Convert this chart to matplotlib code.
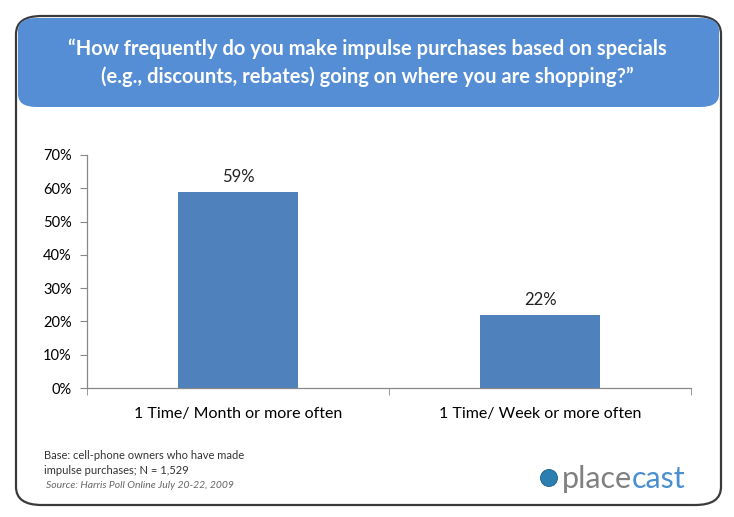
import numpy as np
import matplotlib.pyplot as plt
from matplotlib.patches import FancyBboxPatch, Circle

# datos del grafico
categories = ['1 Time/ Month or more often', '1 Time/ Week or more often']
values = [59, 22]
yticks = [0, 10, 20, 30, 40, 50, 60, 70]

title = ('\u201cHow frequently do you make impulse purchases based on specials\n'
         '(e.g., discounts, rebates) going on where you are shopping?\u201d')
base_note = 'Base: cell-phone owners who have made\nimpulse purchases; N = 1,529'
source_note = 'Source: Harris Poll Online July 20-22, 2009'

W, H = 734, 517
plt.rcParams['font.family'] = ['Lato', 'DejaVu Sans']
fig = plt.figure(figsize=(W / 100, H / 100), dpi=100)

def fx(px):
    return px / W

def fy(py):
    return 1 - py / H

# marco exterior redondeado
frame = FancyBboxPatch((fx(16), fy(505)), fx(705), (505 - 16) / H,
                       boxstyle='round,pad=0,rounding_size=0.035',
                       transform=fig.transFigure, facecolor='none',
                       edgecolor='#3a3a3a', linewidth=1.6, zorder=-1)
fig.patches.append(frame)

# banda del titulo
header = FancyBboxPatch((fx(18), fy(107)), fx(701), (107 - 18) / H,
                        boxstyle='round,pad=0,rounding_size=0.025',
                        transform=fig.transFigure, facecolor='#558ed5',
                        edgecolor='none', zorder=-1)
fig.patches.append(header)
fig.text(0.5, fy(63), title, ha='center', va='center', color='white',
         fontsize=14.5, fontweight='bold', linespacing=1.45, zorder=2)

# grafico de barras
ax = fig.add_axes([fx(87), fy(388), fx(691 - 87), (388 - 155) / H])
x = np.arange(len(categories))
bars = ax.bar(x, values, width=0.4, color='#4f81bd', zorder=2)
for xi, v in zip(x, values):
    ax.text(xi, v + 2, f'{v}%', ha='center', va='bottom', fontsize=12,
            color='#222222')

ax.set_xlim(-0.5, len(categories) - 0.5)
ax.set_ylim(0, 70)
ax.set_yticks(yticks)
ax.set_yticklabels([f'{t}%' for t in yticks], fontsize=10.5)
ax.set_xticks(x)
ax.set_xticklabels(categories, fontsize=11.5)
ax.set_xticks([-0.5, 0.5, 1.5], minor=True)
ax.tick_params(axis='x', which='major', length=0, pad=14)
ax.tick_params(axis='x', which='minor', length=5, direction='out',
               color='#888888')
ax.tick_params(axis='y', length=5, color='#888888', pad=6)
for s in ['top', 'right']:
    ax.spines[s].set_visible(False)
for s in ['left', 'bottom']:
    ax.spines[s].set_color('#888888')
    ax.spines[s].set_linewidth(0.9)
ax.set_facecolor('none')

# notas al pie
fig.text(fx(44), fy(450), base_note, ha='left', va='top', fontsize=8,
         color='#333333', linespacing=1.4)
fig.text(fx(46), fy(485), source_note, ha='left', va='center', fontsize=7.5,
         style='italic', color='#666666')

# logo
glob = Circle((549 / 100, (H - 478) / 100), 0.085,
              transform=fig.dpi_scale_trans,
              facecolor='#2a7fb0', edgecolor='#1e5f88', lw=0.6, zorder=3)
fig.patches.append(glob)
t1 = fig.text(fx(562), fy(479), 'place', ha='left', va='center',
              fontsize=22, color='#808080')
fig.canvas.draw()
bb = t1.get_window_extent()
fig.text(bb.x1 / W, fy(479), 'cast', ha='left', va='center',
         fontsize=22, color='#4a90d0')

fig.savefig('out.png', dpi=100)
